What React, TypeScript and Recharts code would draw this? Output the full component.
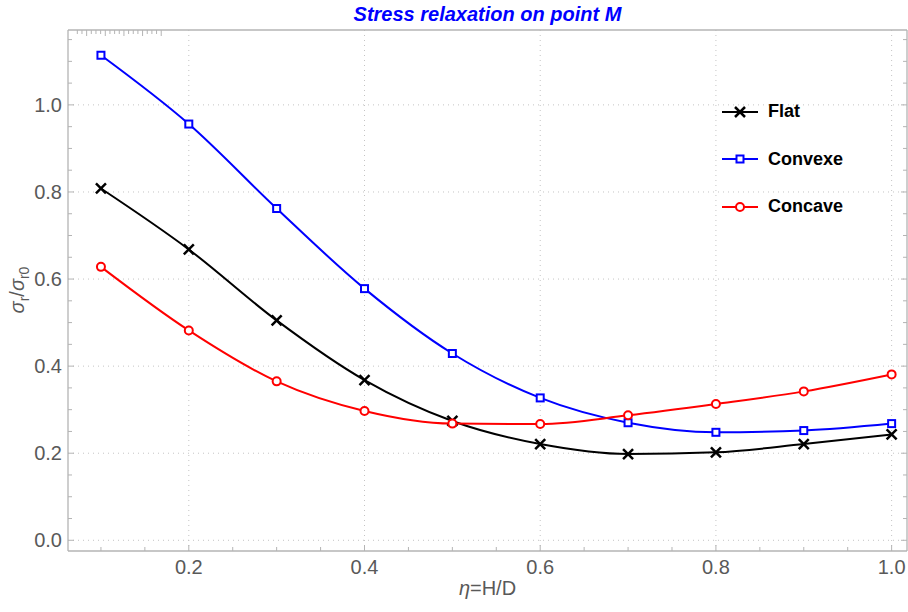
import React from "react";
import { LineChart, Line, XAxis, YAxis, CartesianGrid, Legend } from "recharts";

// valeurs
const etaValues = [0.1, 0.2, 0.3, 0.4, 0.5, 0.6, 0.7, 0.8, 0.9, 1.0];
const flatValues = [0.808, 0.668, 0.505, 0.368, 0.274, 0.221, 0.198, 0.202, 0.221, 0.243];
const convexeValues = [1.114, 0.956, 0.762, 0.578, 0.429, 0.327, 0.27, 0.248, 0.252, 0.268];
const concaveValues = [0.628, 0.482, 0.365, 0.297, 0.268, 0.267, 0.287, 0.313, 0.342, 0.381];

const legendOrder = ["flat", "convexe", "concave"];
const xMajorTicks = [0.2, 0.4, 0.6, 0.8, 1.0];
const yMajorTicks = [0.0, 0.2, 0.4, 0.6, 0.8, 1.0];
const xDomain = [0.0625, 1.0175];
const yDomain = [-0.0246, 1.172];

const data = etaValues.map((eta, i) => ({
  eta,
  flat: flatValues[i],
  convexe: convexeValues[i],
  concave: concaveValues[i],
}));

// graduations secondaires tous les 0.05
const stepTicks = (from: number, to: number, step: number) => {
  const out: number[] = [];
  for (let v = from; v <= to + 1e-9; v += step) out.push(Math.round(v * 100) / 100);
  return out;
};
const xTicks = stepTicks(0.1, 1.0, 0.05);
const yTicks = stepTicks(0.0, 1.15, 0.05);

const FRAME = "#b4b4b4";
const TEXT = "#595959";
const FONT = "'Liberation Sans', Arial, sans-serif";
const X_GAP = 9;
const Y_GAP = 6;

const isMajor = (v: number, majors: number[]) => majors.some((m) => Math.abs(m - v) < 1e-6);

const BottomTick = ({ x, y, payload }: any) => {
  const major = isMajor(payload.value, xMajorTicks);
  const axisY = y - X_GAP;
  return (
    <g>
      <line x1={x} x2={x} y1={axisY} y2={axisY - (major ? 6 : 4)} stroke={FRAME} />
      {major && (
        <text x={x} y={y} dy="0.72em" textAnchor="middle" fill={TEXT} fontSize={20} fontFamily={FONT}>
          {payload.value.toFixed(1)}
        </text>
      )}
    </g>
  );
};

const LeftTick = ({ x, y, payload }: any) => {
  const major = isMajor(payload.value, yMajorTicks);
  const axisX = x + Y_GAP;
  return (
    <g>
      <line x1={axisX} x2={axisX + (major ? 6 : 4)} y1={y} y2={y} stroke={FRAME} />
      {major && (
        <text x={x} y={y} dy="0.36em" textAnchor="end" fill={TEXT} fontSize={20} fontFamily={FONT}>
          {payload.value.toFixed(1)}
        </text>
      )}
    </g>
  );
};

const TopTick = ({ x, y, payload }: any) => {
  const major = isMajor(payload.value, xMajorTicks);
  return <line x1={x} x2={x} y1={y} y2={y + (major ? 6 : 4)} stroke={FRAME} />;
};

const RightTick = ({ x, y, payload }: any) => {
  const major = isMajor(payload.value, yMajorTicks);
  return <line x1={x} x2={x - (major ? 6 : 4)} y1={y} y2={y} stroke={FRAME} />;
};

// marqueurs
const CrossMark = ({ cx, cy }: any) => (
  <g>
    <line x1={cx - 5} y1={cy - 5} x2={cx + 5} y2={cy + 5} stroke="#000" strokeWidth={2.5} />
    <line x1={cx - 5} y1={cy + 5} x2={cx + 5} y2={cy - 5} stroke="#000" strokeWidth={2.5} />
  </g>
);
const SquareMark = ({ cx, cy }: any) => (
  <rect x={cx - 3.5} y={cy - 3.5} width={7} height={7} fill="#fff" stroke="#0000ff" strokeWidth={2} />
);
const CircleMark = ({ cx, cy }: any) => (
  <circle cx={cx} cy={cy} r={4} fill="#fff" stroke="#ff0000" strokeWidth={2} />
);

const markers: Record<string, (p: any) => React.ReactElement> = {
  flat: CrossMark,
  convexe: SquareMark,
  concave: CircleMark,
};

const LegendBox = ({ payload }: any) => {
  const entries = [...(payload || [])].sort(
    (a: any, b: any) => legendOrder.indexOf(a.dataKey) - legendOrder.indexOf(b.dataKey)
  );
  return (
    <div>
      {entries.map((entry: any) => {
        const Mark = markers[entry.dataKey];
        return (
          <div key={entry.dataKey} style={{ display: "flex", alignItems: "center", height: 47.5 }}>
            <svg width={36} height={20}>
              <line x1={0} x2={36} y1={10} y2={10} stroke={entry.color} strokeWidth={2} />
              <Mark cx={18} cy={10} />
            </svg>
            <span
              style={{
                marginLeft: 10,
                fontFamily: FONT,
                fontWeight: "bold",
                fontSize: 18,
                color: "#000",
              }}
            >
              {entry.value}
            </span>
          </div>
        );
      })}
    </div>
  );
};

export default function App() {
  return (
    <div style={{ position: "absolute", left: 0, top: 0, width: 908, height: 612, background: "#fff" }}>
      <div
        style={{
          position: "absolute",
          left: 68,
          width: 839,
          top: 3,
          textAlign: "center",
          fontFamily: FONT,
          fontWeight: "bold",
          fontStyle: "italic",
          fontSize: 20,
          color: "#0000ff",
        }}
      >
        Stress relaxation on point M
      </div>

      <LineChart width={908} height={612} data={data} margin={{ top: 0, right: 0, bottom: 0, left: 0 }}>
        <CartesianGrid
          xAxisId="bottom"
          yAxisId="left"
          verticalValues={xMajorTicks}
          horizontalValues={yMajorTicks}
          stroke="#c4c4c4"
          strokeDasharray="1 4"
        />
        <XAxis
          xAxisId="bottom"
          dataKey="eta"
          type="number"
          domain={xDomain}
          allowDataOverflow
          ticks={xTicks}
          interval={0}
          height={61}
          tickSize={0}
          tickMargin={X_GAP}
          tickLine={false}
          axisLine={{ stroke: FRAME, strokeWidth: 1.3 }}
          tick={<BottomTick />}
        />
        <XAxis
          xAxisId="top"
          orientation="top"
          type="number"
          domain={xDomain}
          allowDataOverflow
          ticks={xTicks}
          interval={0}
          height={30}
          tickSize={0}
          tickMargin={0}
          tickLine={false}
          axisLine={{ stroke: FRAME, strokeWidth: 1.3 }}
          tick={<TopTick />}
        />
        <YAxis
          yAxisId="left"
          type="number"
          domain={yDomain}
          allowDataOverflow
          ticks={yTicks}
          interval={0}
          width={68}
          tickSize={0}
          tickMargin={Y_GAP}
          tickLine={false}
          axisLine={{ stroke: FRAME, strokeWidth: 1.3 }}
          tick={<LeftTick />}
        />
        <YAxis
          yAxisId="right"
          orientation="right"
          type="number"
          domain={yDomain}
          allowDataOverflow
          ticks={yTicks}
          interval={0}
          width={1}
          tickSize={0}
          tickMargin={0}
          tickLine={false}
          axisLine={{ stroke: FRAME, strokeWidth: 1.3 }}
          tick={<RightTick />}
        />
        <Legend
          layout="vertical"
          align="center"
          verticalAlign="middle"
          content={<LegendBox />}
          wrapperStyle={{ top: 88, left: 722, width: 160 }}
        />
        <Line
          xAxisId="bottom"
          yAxisId="left"
          name="Flat"
          dataKey="flat"
          type="monotone"
          stroke="#000"
          strokeWidth={2}
          dot={(p: any) => <CrossMark key={`f-${p.index}`} cx={p.cx} cy={p.cy} />}
          isAnimationActive={false}
        />
        <Line
          xAxisId="bottom"
          yAxisId="left"
          name="Convexe"
          dataKey="convexe"
          type="monotone"
          stroke="#0000ff"
          strokeWidth={2}
          dot={(p: any) => <SquareMark key={`cx-${p.index}`} cx={p.cx} cy={p.cy} />}
          isAnimationActive={false}
        />
        <Line
          xAxisId="bottom"
          yAxisId="left"
          name="Concave"
          dataKey="concave"
          type="monotone"
          stroke="#ff0000"
          strokeWidth={2}
          dot={(p: any) => <CircleMark key={`cv-${p.index}`} cx={p.cx} cy={p.cy} />}
          isAnimationActive={false}
        />
      </LineChart>

      <div
        style={{
          position: "absolute",
          left: 68,
          width: 839,
          top: 577,
          textAlign: "center",
          fontFamily: FONT,
          fontSize: 20,
          color: TEXT,
        }}
      >
        <i>η</i>=H/D
      </div>
      <div
        style={{
          position: "absolute",
          left: 19,
          top: 290,
          transform: "translate(-50%, -50%) rotate(-90deg)",
          whiteSpace: "nowrap",
          fontFamily: FONT,
          fontSize: 20,
          color: TEXT,
        }}
      >
        <i>σ</i>
        <sub style={{ fontSize: 14 }}>r</sub>/<i>σ</i>
        <sub style={{ fontSize: 14 }}>r0</sub>
      </div>
    </div>
  );
}
